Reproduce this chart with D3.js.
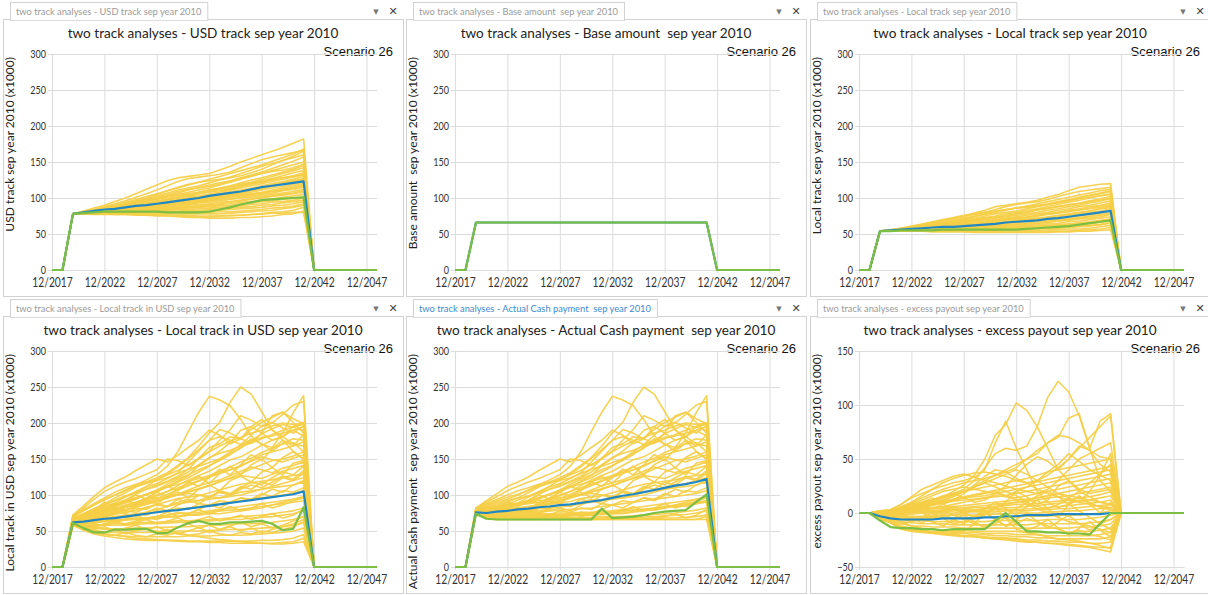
<!DOCTYPE html>
<html>
<head>
<meta charset="utf-8">
<script src="https://cdn.jsdelivr.net/npm/d3@7"></script>
<style>
  html, body { margin: 0; padding: 0; background: #fff; }
  svg { display: block; }
</style>
</head>
<body>
<svg id="chart" width="1208" height="595"></svg>
<script>
// ---- time axis -------------------------------------------------------------
const years = [2017,2018,2019,2020,2021,2022,2023,2024,2025,2026,2027,2028,2029,2030,2031,2032,
               2033,2034,2035,2036,2037,2038,2039,2040,2041,2042,2043,2044,2045,2046,2047,2048];
const firstActiveYear = 2019;   // runs hold one value per year 2019..2041, zero outside
const lastActiveYear = 2041;
const xTickYears = [2017,2022,2027,2032,2037,2042,2047];
const xTickLabels = ["12/2017","12/2022","12/2027","12/2032","12/2037","12/2042","12/2047"];
const yTicksMain = [0,50,100,150,200,250,300];
const yTicksExcess = [-50,0,50,100,150];

// ---- USD track ---------------------------------------------------------------
const usdTrackRuns = [
  [78,82,86,90,95,100,106,112,118,124,128,130,132,134,139,144,150,155,160,165,170,176,182],
  [78,81,84,88,92,96,101,106,111,117,123,127,129,131,133,136,142,148,153,157,160,163,166],
  [78,81,84,87,90,94,98,102,106,110,114,118,122,126,130,134,138,142,146,151,156,161,168],
  [78,80,83,86,89,92,95,99,103,107,111,114,117,121,125,129,134,139,144,148,152,156,160],
  [78,80,82,85,88,91,94,97,100,103,107,111,115,118,121,124,128,132,136,141,146,151,157],
  [78,80,82,84,87,90,93,96,99,102,105,108,111,114,118,122,126,130,134,138,142,146,150],
  [78,80,83,85,87,89,92,95,98,101,104,106,108,111,114,117,121,125,128,132,136,140,145],
  [78,79,81,83,85,88,91,93,96,99,102,105,108,111,113,116,119,122,126,130,134,138,142],
  [78,80,82,84,86,88,90,92,95,98,100,103,106,109,112,115,118,121,124,127,131,135,138],
  [78,79,81,83,85,87,89,92,94,97,100,103,106,108,110,113,116,119,122,125,128,131,135],
  [78,79,81,82,84,86,88,90,93,95,98,100,102,105,108,111,114,117,120,123,126,129,132],
  [78,80,81,83,85,86,88,90,92,94,96,99,101,104,106,109,111,114,117,120,123,126,130],
  [78,79,80,82,84,86,88,89,91,93,95,97,100,102,105,107,110,112,115,118,121,124,127],
  [78,79,81,82,83,85,87,89,91,92,94,96,98,100,102,105,107,110,113,116,119,122,125],
  [78,79,80,81,83,84,86,88,90,92,94,96,98,100,102,104,106,108,111,114,116,119,122],
  [78,79,80,82,83,85,86,87,89,91,93,94,96,98,100,102,104,106,108,111,114,117,120],
  [78,79,80,81,82,84,85,87,88,90,91,93,95,97,99,101,103,105,107,109,112,115,118],
  [78,78,79,80,82,83,85,86,88,89,91,92,94,96,98,99,101,103,105,107,110,112,115],
  [78,79,80,81,82,83,84,85,87,88,90,91,93,94,96,98,100,101,103,105,107,109,112],
  [78,79,80,81,82,83,84,85,86,87,88,90,91,92,94,95,97,99,101,103,105,107,110],
  [78,78,79,80,81,82,83,84,85,86,87,88,89,91,92,94,96,98,100,102,104,106,108],
  [78,79,79,80,81,81,82,83,84,85,86,87,88,89,91,92,94,95,97,99,101,103,105],
  [78,78,79,80,80,81,82,82,83,84,85,86,87,88,89,90,92,93,95,96,98,100,102],
  [78,78,79,79,80,81,81,82,82,83,84,84,85,86,87,88,89,91,92,94,95,97,100],
  [78,78,79,79,80,80,81,81,82,82,82,83,83,84,85,86,87,88,90,91,93,95,97],
  [78,78,78,79,79,80,80,80,81,81,81,81,82,82,83,84,85,86,87,89,90,92,95],
  [78,78,78,79,79,79,80,80,80,80,80,80,80,80,81,81,82,83,84,86,87,89,92],
  [78,78,78,78,79,79,79,79,79,79,78,78,78,78,78,79,80,81,82,83,85,87,90],
  [78,78,78,78,78,78,78,78,77,77,76,76,75,75,75,76,76,77,78,80,81,83,87],
  [78,78,77,77,77,77,76,76,75,75,74,73,73,72,72,72,73,73,74,75,77,78,82],
  [78,78,78,78,77,77,77,76,76,75,75,74,74,74,75,75,76,77,78,79,79,80,80],
  [78,80,82,85,88,92,96,100,105,110,115,119,122,124,126,128,131,135,140,146,152,158,165],
  [78,79,82,84,87,90,93,97,101,105,109,112,114,116,119,123,127,131,134,137,139,142,147],
  [78,79,81,83,84,86,89,92,95,98,100,102,103,105,108,112,116,120,123,126,128,130,133],
  [78,79,80,82,83,85,87,89,92,94,97,99,101,102,104,106,108,110,114,118,121,124,126],
  [78,79,80,81,83,84,86,87,88,90,92,95,97,99,101,103,104,105,107,109,111,114,117]
];
const usdTrackMean =     [78,80,82,84,85,87,89,90,92,94,96,98,100,103,105,107,109,112,115,117,119,121,123];
const usdTrackScenario = [78,79,80,81,81,81,81,81,81,80,80,80,80,81,84,87,91,94,97,98,99,100,101];

// ---- Base amount (identical in every run) -----------------------------------
const baseAmount = [66,66,66,66,66,66,66,66,66,66,66,66,66,66,66,66,66,66,66,66,66,66,66];

// ---- Local track -------------------------------------------------------------
const localTrackRuns = [
  [54,56,58,60,63,66,69,72,75,79,83,88,90,92,94,97,101,105,110,115,117,119,120],
  [54,56,58,60,62,65,68,71,74,77,80,84,88,91,93,95,98,102,106,109,111,113,115],
  [54,55,57,59,61,63,66,68,71,74,77,80,83,86,89,92,95,98,101,104,107,110,112],
  [54,55,57,59,61,63,65,67,70,72,75,78,80,82,85,88,91,94,97,100,103,106,109],
  [54,55,57,58,60,62,64,66,68,70,73,75,78,80,83,85,88,91,94,97,100,103,106],
  [54,55,56,58,60,61,63,65,67,69,71,73,75,78,80,83,85,88,91,93,96,99,102],
  [54,55,56,58,59,61,62,64,66,68,70,72,74,76,78,80,83,85,88,90,93,96,99],
  [54,55,56,57,59,60,62,63,65,67,68,70,72,74,76,78,80,83,85,88,90,93,96],
  [54,55,56,57,58,60,61,62,64,65,67,69,71,73,74,76,78,80,83,85,88,90,93],
  [54,55,56,57,58,59,60,62,63,64,66,67,69,71,73,75,77,79,81,83,85,87,90],
  [54,55,55,56,57,58,59,60,62,63,64,66,67,69,71,72,74,76,78,80,82,85,87],
  [54,54,55,56,57,58,59,60,61,62,63,64,66,67,69,70,72,74,76,78,80,82,85],
  [54,55,55,56,57,57,58,59,60,61,62,63,64,66,67,68,70,72,73,75,77,79,82],
  [54,54,55,56,56,57,58,59,59,60,61,62,63,64,65,67,68,70,71,73,75,77,79],
  [54,54,55,55,56,57,57,58,59,59,60,61,62,63,64,65,66,68,69,71,72,74,77],
  [54,54,55,55,56,56,57,57,58,58,59,60,60,61,62,63,64,65,67,68,70,72,74],
  [54,54,55,55,55,56,56,57,57,58,58,59,59,60,61,61,62,63,64,66,67,69,71],
  [54,54,54,55,55,55,56,56,56,57,57,57,58,58,59,59,60,61,62,63,64,66,68],
  [54,54,54,55,55,55,55,55,56,56,56,56,56,57,57,57,58,58,59,60,61,63,65],
  [54,54,54,54,54,55,55,55,55,55,55,55,55,55,55,55,56,56,57,57,58,60,62],
  [54,54,54,54,54,54,54,54,54,53,53,53,53,53,53,53,54,54,54,55,56,57,59],
  [54,54,54,54,54,53,53,53,53,52,52,52,52,52,52,52,52,53,53,54,54,55,56],
  [54,56,58,61,64,67,70,73,76,78,80,82,84,86,88,90,92,95,98,101,104,107,110],
  [54,55,57,59,62,64,66,69,72,75,78,81,84,86,87,89,91,93,96,99,101,103,105],
  [54,55,56,58,60,62,64,66,68,70,72,74,76,78,81,84,86,88,90,92,95,97,100],
  [54,55,56,57,58,60,61,62,63,65,66,68,70,72,73,75,78,80,82,84,86,89,91],
  [54,55,56,57,57,58,59,61,62,63,64,65,67,68,70,72,73,75,77,79,82,85,88],
  [54,54,55,56,56,57,58,58,59,60,61,61,62,63,64,65,67,68,70,72,74,76,78],
  [54,54,55,55,56,56,57,57,57,58,58,58,59,59,60,60,61,62,63,64,66,68,70],
  [54,54,54,54,55,55,55,55,56,56,56,56,57,57,57,58,58,59,60,61,62,63,66]
];
const localTrackMean =     [54,55,56,57,58,59,60,60,61,62,63,64,66,67,68,69,71,72,74,76,78,80,82];
const localTrackScenario = [54,54,55,55,55,55,56,56,56,56,56,56,56,56,57,58,59,60,61,63,65,67,69];

// ---- Local track in USD --------------------------------------------------------
const localUsdRuns = [
  [70,78,86,93,100,107,114,121,128,140,160,188,215,237,232,224,205,182,170,166,186,214,238],
  [66,73,81,88,96,103,111,118,124,131,141,152,168,186,201,229,250,240,216,191,176,161,150],
  [64,70,77,83,89,97,105,112,121,129,139,151,163,176,191,186,178,191,201,208,215,206,199],
  [68,74,81,86,93,99,104,111,116,123,131,146,161,176,181,176,170,183,196,201,193,186,196],
  [65,70,75,81,87,93,101,108,114,119,126,136,151,166,171,181,178,172,186,210,215,201,186],
  [62,68,73,79,85,91,96,101,105,111,119,127,141,151,161,173,190,195,186,176,181,190,182],
  [72,85,98,110,118,125,134,142,150,146,155,166,176,190,183,171,178,195,205,190,181,195,200],
  [70,82,94,105,112,118,123,129,135,150,148,141,151,161,176,191,210,204,195,200,212,225,230],
  [64,68,74,79,84,89,94,101,107,115,122,128,135,141,148,156,166,178,171,161,172,178,176],
  [60,65,69,73,77,83,88,93,99,105,113,121,127,133,141,149,153,161,169,176,181,171,168],
  [66,71,76,81,85,90,96,101,106,111,115,119,123,127,133,139,146,151,159,165,171,173,160],
  [63,67,71,75,79,83,87,91,95,101,107,113,119,125,131,135,141,147,153,149,146,151,156],
  [61,65,68,71,75,79,83,87,91,96,101,107,113,117,121,127,133,139,135,131,137,141,146],
  [65,69,72,76,79,83,86,89,93,97,101,105,109,113,119,123,127,125,123,129,133,137,141],
  [66,72,78,90,84,92,100,94,104,112,106,118,126,116,130,140,128,142,150,138,152,160,150],
  [64,70,68,76,82,78,86,92,88,98,104,96,108,114,106,120,126,118,132,138,128,144,148],
  [62,66,72,70,76,74,82,80,88,84,94,90,100,96,106,102,112,108,118,114,124,120,130],
  [60,62,66,64,70,68,74,72,78,76,82,80,88,86,92,90,96,94,102,98,106,104,110],
  [63,60,64,68,62,66,72,66,70,76,70,74,80,74,78,84,78,82,88,82,86,92,96],
  [61,58,56,60,64,58,62,66,60,64,68,62,66,70,64,68,72,66,70,74,68,72,80],
  [59,55,52,56,50,54,58,52,56,50,55,60,54,58,52,57,62,56,60,54,58,64,70],
  [60,54,50,48,52,46,50,54,48,52,46,50,55,48,52,56,50,54,48,52,56,60,66],
  [58,52,48,46,44,48,44,42,46,44,48,44,46,50,46,44,48,46,50,48,52,56,62],
  [60,64,67,70,73,76,79,83,87,91,95,97,99,103,107,111,115,117,119,121,125,127,129],
  [62,64,66,68,70,72,74,76,80,84,88,90,92,94,96,100,104,106,108,110,112,114,118],
  [63,64,66,68,69,70,72,74,76,78,80,82,84,86,88,90,92,94,96,98,100,102,106],
  [59,60,62,63,64,66,67,68,70,72,74,75,76,78,80,82,84,86,88,90,92,94,96],
  [62,62,63,64,64,65,66,67,68,69,70,72,74,76,78,79,80,82,84,86,88,90,92],
  [58,58,58,59,60,60,61,62,62,63,64,64,65,66,67,68,70,71,72,74,76,78,82],
  [62,60,59,58,58,58,59,60,60,61,62,62,63,64,65,66,66,68,69,70,72,74,78],
  [61,57,54,53,53,53,54,54,55,55,56,56,57,58,58,59,60,60,61,62,64,66,70],
  [60,55,51,49,48,48,48,48,49,49,50,50,50,51,51,52,52,53,54,55,56,58,62],
  [59,53,48,45,44,43,42,42,42,42,42,43,43,43,44,44,44,45,46,47,48,50,54],
  [58,51,46,43,41,39,38,37,37,37,37,36,36,36,36,36,36,36,37,37,38,40,45],
  [60,54,49,46,44,42,40,39,38,37,36,35,35,34,34,33,33,33,33,33,34,35,40],
  [62,58,55,53,52,51,51,52,50,48,46,44,42,40,38,37,35,34,33,32,32,33,35],
  [72,80,88,96,104,110,115,118,120,124,130,136,140,145,150,158,165,175,185,192,198,194,190],
  [70,78,86,94,100,106,112,116,122,128,134,142,150,160,168,175,180,186,190,196,200,198,200],
  [68,74,80,86,92,98,103,108,112,118,124,132,142,152,158,162,168,172,178,184,190,195,198],
  [66,72,78,84,88,92,96,100,106,112,118,124,132,140,150,160,170,175,180,182,186,190,195],
  [66,70,74,78,82,86,90,95,100,105,110,115,120,125,130,135,140,148,156,160,164,168,174],
  [64,67,70,73,76,80,84,88,92,96,100,104,108,113,118,124,130,136,142,148,150,154,160],
  [65,68,72,76,80,85,90,94,96,98,100,102,100,98,96,98,100,104,108,112,116,120,124],
  [60,62,64,66,66,66,68,68,70,70,70,72,72,74,74,76,78,80,82,86,90,94,98],
  [62,68,74,78,86,92,88,96,104,98,108,118,112,124,136,128,142,156,148,164,176,168,184],
  [64,62,60,64,68,72,70,76,82,78,86,92,88,96,104,100,110,118,114,124,132,128,140],
  [58,56,56,58,62,60,64,68,66,72,76,74,80,86,82,90,96,92,100,108,104,114,120],
  [66,70,72,70,74,78,76,82,86,84,90,94,92,98,104,100,108,114,110,118,126,122,134]
];
const localUsdMean =     [62,63,65,67,68,70,72,74,76,78,79,81,83,85,87,89,91,93,95,97,99,101,105];
const localUsdScenario = [61,54,48,48,52,52,53,53,47,47,55,61,64,60,60,62,62,63,64,60,51,53,83];

// ---- Actual cash payment ---------------------------------------------------------
const actualCashRuns = [
  [82,86,90,94,100,107,114,121,128,140,160,188,215,237,232,224,205,182,170,166,186,214,238],
  [80,83,86,90,96,103,111,118,124,131,141,152,168,186,201,229,250,240,216,191,176,161,150],
  [78,80,82,85,89,97,105,112,121,129,139,151,163,176,191,186,178,191,201,208,215,206,199],
  [80,82,84,87,93,99,104,111,116,123,131,146,161,176,181,176,170,183,196,201,193,186,196],
  [79,81,83,85,88,93,101,108,114,119,126,136,151,166,171,181,178,172,186,210,215,201,186],
  [77,78,80,82,86,91,96,101,105,111,119,127,141,151,161,173,190,195,186,176,181,190,182],
  [82,92,102,112,118,125,134,142,150,146,155,166,176,190,183,171,178,195,205,190,181,195,200],
  [81,90,98,106,112,118,123,129,135,150,148,141,151,161,176,191,210,204,195,200,212,225,230],
  [78,80,82,84,86,89,94,101,107,115,122,128,135,141,148,156,166,178,171,161,172,178,176],
  [76,77,78,79,80,83,88,93,99,105,113,121,127,133,141,149,153,161,169,176,181,171,168],
  [79,80,82,84,86,90,96,101,106,111,115,119,123,127,133,139,146,151,159,165,171,173,160],
  [77,78,79,80,81,83,87,91,95,101,107,113,119,125,131,135,141,147,153,149,146,151,156],
  [76,76,77,77,78,79,83,87,91,96,101,107,113,117,121,127,133,139,135,131,137,141,146],
  [78,79,80,81,82,83,86,89,93,97,101,105,109,113,119,123,127,125,123,129,133,137,141],
  [79,80,82,90,84,92,100,94,104,112,106,118,126,116,130,140,128,142,150,138,152,160,150],
  [78,78,79,80,82,80,86,92,88,98,104,96,108,114,106,120,126,118,132,138,128,144,148],
  [77,76,76,76,78,76,82,80,88,84,94,90,100,96,106,102,112,108,118,114,124,120,130],
  [75,73,72,72,73,72,74,72,78,76,82,80,88,86,92,90,96,94,102,98,106,104,110],
  [76,72,70,70,69,68,72,68,70,76,70,74,80,74,78,84,78,82,88,82,86,92,96],
  [74,69,67,67,68,66,67,68,66,67,68,66,67,70,67,68,72,68,70,74,68,72,80],
  [74,67,66,66,66,66,66,66,66,66,66,66,66,66,66,66,66,66,66,66,66,66,70],
  [73,67,66,66,66,66,66,66,66,66,66,66,66,66,66,66,66,66,66,66,66,66,66],
  [78,79,80,81,82,84,85,87,89,91,95,97,99,103,107,111,115,117,119,121,125,127,129],
  [77,78,78,79,79,80,81,82,83,85,88,90,92,94,96,100,104,106,108,110,112,114,118],
  [78,78,78,78,78,78,78,78,79,80,81,82,84,86,88,90,92,94,96,98,100,102,106],
  [76,75,75,74,74,74,74,74,75,75,76,76,77,78,80,82,84,86,88,90,92,94,96],
  [77,75,74,73,72,72,72,72,72,72,72,73,74,76,78,79,80,82,84,86,88,90,92],
  [75,72,70,69,69,69,69,69,69,69,69,69,70,70,70,71,72,73,74,75,77,79,82],
  [76,71,69,68,68,68,68,68,68,68,68,68,68,68,68,69,69,70,71,72,73,75,78],
  [75,70,68,67,67,67,67,67,67,67,67,67,67,67,67,67,67,67,68,68,69,70,72],
  [82,88,94,100,106,110,115,118,120,124,130,136,140,145,150,158,165,175,185,192,198,194,190],
  [81,86,92,97,101,106,112,116,122,128,134,142,150,160,168,175,180,186,190,196,200,198,200],
  [80,84,88,92,96,98,103,108,112,118,124,132,142,152,158,162,168,172,178,184,190,195,198],
  [79,82,84,87,89,92,96,100,106,112,118,124,132,140,150,160,170,175,180,182,186,190,195],
  [79,81,83,85,86,88,90,95,100,105,110,115,120,125,130,135,140,148,156,160,164,168,174],
  [78,79,80,81,82,84,86,88,92,96,100,104,108,113,118,124,130,136,142,148,150,154,160],
  [79,81,83,86,88,90,92,94,96,98,100,102,100,98,96,98,100,104,108,112,116,120,124],
  [75,72,71,70,70,70,70,70,71,71,72,72,73,74,74,76,78,80,82,86,90,94,98],
  [78,80,82,84,88,92,88,96,104,98,108,118,112,124,136,128,142,156,148,164,176,168,184],
  [77,76,75,75,75,76,75,78,82,78,86,92,88,96,104,100,110,118,114,124,132,128,140],
  [74,70,68,67,67,67,68,70,69,72,76,74,80,86,82,90,96,92,100,108,104,114,120],
  [78,78,77,76,76,78,76,82,86,84,90,94,92,98,104,100,108,114,110,118,126,122,134],
  [76,73,71,70,70,69,70,71,70,72,73,72,74,76,75,77,80,79,82,85,84,88,92],
  [77,74,72,71,71,71,72,73,73,74,74,75,76,77,78,79,80,81,83,84,86,88,90]
];
const actualCashMean =     [76,75,77,78,80,81,83,84,86,87,89,91,93,96,99,101,104,107,110,113,115,118,122];
const actualCashScenario = [74,67,66,66,66,66,66,66,66,66,66,66,81,68,69,70,72,75,77,78,79,90,101];

// ---- Excess payout -----------------------------------------------------------------
const excessRuns = [
  [2,3,8,14,18,22,25,28,30,33,40,65,85,60,40,20,10,5,8,12,10,5,3],
  [1,2,5,8,10,12,15,20,26,35,50,72,82,102,95,80,60,40,30,20,15,10,8],
  [1,2,4,6,8,10,14,18,22,30,42,55,60,58,62,80,107,122,112,90,60,30,20],
  [1,1,3,5,7,9,12,15,20,25,30,35,40,45,50,55,65,70,88,92,60,85,92],
  [2,2,6,10,16,22,28,32,35,37,38,36,34,30,28,30,35,42,50,60,70,80,90],
  [2,3,8,15,22,26,30,34,36,33,30,28,25,22,20,18,22,30,40,50,55,60,65],
  [1,2,5,9,14,18,22,25,28,30,32,35,38,42,50,58,65,72,70,65,58,52,50],
  [1,1,4,8,12,16,20,22,24,22,20,18,16,20,24,30,38,45,55,48,40,35,30],
  [1,1,3,6,9,12,15,18,20,22,24,26,28,30,32,35,38,40,42,44,46,48,50],
  [1,1,3,5,7,9,11,13,15,17,19,21,23,25,27,29,31,33,35,37,39,41,43],
  [0,1,2,4,6,8,10,12,14,15,16,18,20,22,24,26,28,30,32,34,36,38,40],
  [0,1,2,3,5,7,9,11,12,13,14,15,16,18,20,22,24,26,28,30,32,34,36],
  [0,1,2,3,4,5,6,8,10,12,14,16,15,14,16,18,20,22,24,26,28,30,32],
  [0,0,1,2,3,4,5,6,7,8,9,10,11,12,13,14,16,18,20,22,24,26,28],
  [0,0,1,2,3,4,4,5,5,6,7,8,9,10,11,12,14,15,16,18,20,22,24],
  [0,0,1,1,2,2,3,3,4,5,5,6,7,8,8,9,10,11,12,14,15,17,20],
  [0,0,0,1,1,2,2,3,3,3,4,4,5,5,6,7,8,9,10,11,12,14,16],
  [0,0,0,0,1,1,1,2,2,2,2,3,3,3,4,4,5,6,7,8,9,10,12],
  [-1,-1,-1,-1,0,0,0,0,1,1,1,1,2,2,2,3,3,4,4,5,6,7,8],
  [-1,-2,-2,-3,-3,-3,-2,-2,-2,-2,-1,-1,-1,0,0,0,1,1,2,2,3,4,5],
  [-2,-3,-4,-5,-5,-5,-5,-5,-5,-4,-4,-4,-4,-4,-3,-3,-3,-2,-2,-2,-1,0,2],
  [-2,-4,-6,-7,-7,-8,-8,-8,-8,-8,-8,-7,-7,-7,-7,-7,-6,-6,-6,-6,-5,-4,-2],
  [-3,-5,-8,-9,-10,-10,-10,-11,-11,-11,-11,-11,-11,-11,-11,-10,-10,-10,-10,-10,-9,-8,-6],
  [-3,-6,-10,-12,-12,-13,-13,-13,-14,-14,-14,-14,-14,-14,-14,-14,-14,-14,-14,-13,-13,-12,-10],
  [-4,-7,-12,-14,-15,-15,-16,-16,-16,-17,-17,-17,-17,-17,-18,-18,-18,-18,-18,-17,-17,-16,-14],
  [-4,-8,-13,-15,-16,-17,-17,-18,-18,-18,-19,-19,-19,-20,-20,-20,-21,-21,-21,-21,-21,-20,-18],
  [-5,-8,-14,-16,-17,-18,-18,-19,-19,-20,-20,-21,-21,-22,-22,-23,-23,-24,-24,-24,-24,-24,-22],
  [-5,-9,-14,-16,-17,-18,-19,-20,-21,-21,-22,-23,-23,-24,-25,-25,-26,-26,-27,-27,-28,-28,-27],
  [-6,-9,-15,-17,-18,-19,-20,-21,-22,-22,-23,-24,-25,-26,-27,-27,-28,-28,-29,-30,-31,-32,-32],
  [-5,-8,-14,-16,-17,-18,-19,-20,-21,-22,-23,-24,-24,-25,-26,-27,-28,-29,-30,-31,-32,-34,-36],
  [-2,-4,-8,-12,-14,-15,-16,-17,-17,-10,0,5,-5,-15,-18,-20,-22,-24,-25,-26,-28,-30,-33],
  [-2,-3,-5,-6,-4,0,-5,-10,-8,-3,2,-6,-12,-10,-5,-8,-12,-15,-18,-16,-20,-22,-25],
  [1,2,4,6,10,14,8,4,0,-4,-2,4,10,20,15,8,12,25,30,22,18,20,22],
  [1,1,4,8,6,4,8,12,18,26,34,40,38,32,28,22,18,15,12,10,8,6,5],
  [0,0,2,5,8,12,16,18,14,10,12,18,25,35,45,52,48,40,50,62,58,45,38],
  [0,-1,0,2,5,8,12,16,20,24,28,24,20,16,10,6,4,8,14,20,28,36,45],
  [-1,-2,-5,-8,-6,-2,2,-2,-6,-10,-12,-8,-2,4,10,16,20,15,8,2,-4,-10,-15],
  [1,1,3,5,8,11,14,17,20,24,28,32,36,40,36,30,24,18,14,10,20,35,55],
  [0,0,1,3,5,8,10,12,14,16,18,20,16,12,8,4,0,-4,-8,-10,-12,-15,-18],
  [-1,-2,-3,-4,-4,-4,-3,-2,0,2,4,6,8,10,12,14,16,18,16,14,12,10,8],
  [-3,-6,-10,-8,-4,-8,-12,-6,-2,-8,-14,-10,-4,-10,-16,-12,-6,-14,-20,-14,-8,-16,-22],
  [-1,-3,-1,-5,-9,-5,-1,-6,-10,-4,0,-6,-12,-6,0,-8,-14,-8,-2,-10,-16,-10,-6],
  [1,2,-2,4,0,-4,2,6,0,-4,4,10,4,-2,6,12,4,-4,8,16,8,0,10]
];
const excessMean =     [-3,-5,-6,-6,-6,-6,-5,-5,-5,-5,-4,-4,-3,-3,-2,-2,-2,-1,-1,-1,-1,-1,0];
const excessScenario = [-7,-13,-14,-14,-15,-15,-16,-15,-15,-15,-15,-7,0,-8,-17,-17,-18,-18,-19,-19,-20,-10,0];

// ---- panel definitions ---------------------------------------------------------------
const panels = [
  { col: 0, row: 0, name: "USD track sep year 2010", yLabel: "USD track sep year 2010 (x1000)",
    yTicks: yTicksMain, runs: usdTrackRuns, mean: usdTrackMean, scenario: usdTrackScenario },
  { col: 1, row: 0, name: "Base amount  sep year 2010", yLabel: "Base amount  sep year 2010 (x1000)",
    yTicks: yTicksMain, runs: [baseAmount], mean: baseAmount, scenario: baseAmount },
  { col: 2, row: 0, name: "Local track sep year 2010", yLabel: "Local track sep year 2010 (x1000)",
    yTicks: yTicksMain, runs: localTrackRuns, mean: localTrackMean, scenario: localTrackScenario },
  { col: 0, row: 1, name: "Local track in USD sep year 2010", yLabel: "Local track in USD sep year 2010 (x1000)",
    yTicks: yTicksMain, runs: localUsdRuns, mean: localUsdMean, scenario: localUsdScenario },
  { col: 1, row: 1, name: "Actual Cash payment  sep year 2010", yLabel: "Actual Cash payment  sep year 2010 (x1000)",
    yTicks: yTicksMain, runs: actualCashRuns, mean: actualCashMean, scenario: actualCashScenario, active: true },
  { col: 2, row: 1, name: "excess payout sep year 2010", yLabel: "excess payout sep year 2010 (x1000)",
    yTicks: yTicksExcess, runs: excessRuns, mean: excessMean, scenario: excessScenario }
];
const titlePrefix = "two track analyses - ";
const scenarioLabel = "Scenario 26";

// ---- layout & style -------------------------------------------------------------------
const colLeft = [3, 406, 810];
const rowTop = [0, 297];
const bodyW = 400, bodyTop = 19, bodyH = 277;
const plotDx = 49, plotW = 325, plotDy = 54, plotH = 216;
const colors = { run: "#F5CE45", mean: "#1F87C6", scenario: "#7BBF44", grid: "#DCDCDC", frame: "#D2D2D2" };
const uiFont = "Lato, 'Open Sans', sans-serif";

const svg = d3.select("#chart");

// narrow a text run to a share of its natural width (the UI font is a condensed face)
function condense(sel, factor) {
  sel.each(function () {
    const w = this.getComputedTextLength();
    d3.select(this).attr("textLength", w * factor).attr("lengthAdjust", "spacingAndGlyphs");
  });
}

// one value per year: zero before the first and after the last active year
const toSeries = run => years.map(yr =>
  (yr < firstActiveYear || yr > lastActiveYear) ? 0 : run[yr - firstActiveYear]);

function draw() {
  panels.forEach(p => {
    const L = colLeft[p.col], T = rowTop[p.row];
    const g = svg.append("g");

    // panel frame
    g.append("rect")
      .attr("x", L + 0.5).attr("y", T + bodyTop + 0.5)
      .attr("width", bodyW).attr("height", bodyH)
      .attr("fill", "#fff").attr("stroke", colors.frame);

    // tab
    const tabX = L + 7;
    const tabG = g.append("g");
    const tabText = tabG.append("text")
      .attr("x", tabX + 6).attr("y", T + 15)
      .style("white-space", "pre")
      .attr("font-family", uiFont).attr("font-size", 9.3)
      .attr("fill", p.active ? "#3B8CD4" : "#9A9A9A")
      .text(titlePrefix + p.name);
    const tw = tabText.node().getComputedTextLength() + 12;
    tabG.insert("rect", "text")
      .attr("x", tabX + 0.5).attr("y", T + 2.5).attr("width", tw).attr("height", 18)
      .attr("fill", "#fff").attr("stroke", colors.frame);
    tabG.insert("line", "text")
      .attr("x1", tabX + 1).attr("x2", tabX + tw).attr("y1", T + bodyTop + 0.5).attr("y2", T + bodyTop + 0.5)
      .attr("stroke", "#fff").attr("stroke-width", 1.5);

    // window icons
    g.append("text").attr("x", L + bodyW - 27).attr("y", T + 14)
      .attr("text-anchor", "middle").attr("font-family", "'DejaVu Sans', sans-serif").attr("font-size", 7)
      .attr("fill", "#777").text("▼");
    g.append("text").attr("x", L + bodyW - 10).attr("y", T + 15)
      .attr("text-anchor", "middle").attr("font-family", "'DejaVu Sans', sans-serif").attr("font-size", 11)
      .attr("font-weight", "bold").attr("fill", "#444").text("✕");

    // title & scenario tag
    g.append("text").attr("x", L + 200).attr("y", T + 38)
      .attr("text-anchor", "middle").style("white-space", "pre")
      .attr("font-family", uiFont).attr("font-size", 14).attr("fill", "#222")
      .text(titlePrefix + p.name)
      .call(condense, 0.97);
    g.append("text").attr("x", L + 390).attr("y", T + 56)
      .attr("text-anchor", "end")
      .attr("font-family", "'Liberation Sans', Arial, sans-serif").attr("font-size", 13).attr("fill", "#111")
      .text(scenarioLabel);

    // scales
    const x0 = L + plotDx, y0 = T + plotDy;
    const x = d3.scaleLinear().domain([years[0], years[years.length - 1]]).range([x0, x0 + plotW]);
    const y = d3.scaleLinear().domain([p.yTicks[0], p.yTicks[p.yTicks.length - 1]]).range([y0 + plotH, y0]);

    // grid
    const grid = g.append("g");
    grid.append("g").attr("transform", `translate(${x0},0)`)
      .call(d3.axisLeft(y).tickValues(p.yTicks).tickSize(-plotW).tickFormat("").tickSizeOuter(0))
      .call(s => s.select(".domain").remove())
      .selectAll("line").attr("stroke", colors.grid);
    grid.append("g").attr("transform", `translate(0,${y0 + plotH})`)
      .call(d3.axisBottom(x).tickValues(xTickYears).tickSize(-plotH).tickFormat("").tickSizeOuter(0))
      .call(s => s.select(".domain").remove())
      .selectAll("line").attr("stroke", colors.grid);

    // axes (short ticks + labels)
    const yAxis = g.append("g").attr("transform", `translate(${x0},0)`)
      .call(d3.axisLeft(y).tickValues(p.yTicks).tickSize(4).tickPadding(2).tickSizeOuter(0));
    yAxis.select(".domain").attr("stroke", colors.grid);
    yAxis.selectAll("line").attr("stroke", colors.grid);
    yAxis.selectAll("text").attr("font-family", uiFont).attr("font-size", 12).attr("fill", "#333")
      .call(condense, 0.75);

    const xAxis = g.append("g").attr("transform", `translate(0,${y0 + plotH})`)
      .call(d3.axisBottom(x).tickValues(xTickYears).tickFormat((d, i) => xTickLabels[i])
        .tickSize(3).tickPadding(5).tickSizeOuter(0));
    xAxis.select(".domain").attr("stroke", colors.grid);
    xAxis.selectAll("line").attr("stroke", colors.grid);
    xAxis.selectAll("text").attr("font-family", uiFont).attr("font-size", 12.5).attr("fill", "#333")
      .call(condense, 0.82);

    // y label, hung from the top of the plot
    g.append("text")
      .attr("transform", `translate(${L + 11},${y0 + 3}) rotate(-90)`)
      .attr("text-anchor", "end").style("white-space", "pre")
      .attr("font-family", uiFont).attr("font-size", 12).attr("fill", "#222")
      .text(p.yLabel);

    // series
    const line = d3.line().x((d, i) => x(years[i])).y(d => y(d));
    const lines = g.append("g").attr("fill", "none").attr("stroke-linejoin", "round");
    lines.selectAll("path.run").data(p.runs).join("path")
      .attr("class", "run").attr("d", r => line(toSeries(r)))
      .attr("stroke", colors.run).attr("stroke-width", 1.6).attr("stroke-opacity", 0.92);
    lines.append("path").attr("d", line(toSeries(p.mean)))
      .attr("stroke", colors.mean).attr("stroke-width", 2.2);
    lines.append("path").attr("d", line(toSeries(p.scenario)))
      .attr("stroke", colors.scenario).attr("stroke-width", 2.2);
  });
}

if (document.fonts && document.fonts.ready) document.fonts.ready.then(draw); else draw();
</script>
</body>
</html>
